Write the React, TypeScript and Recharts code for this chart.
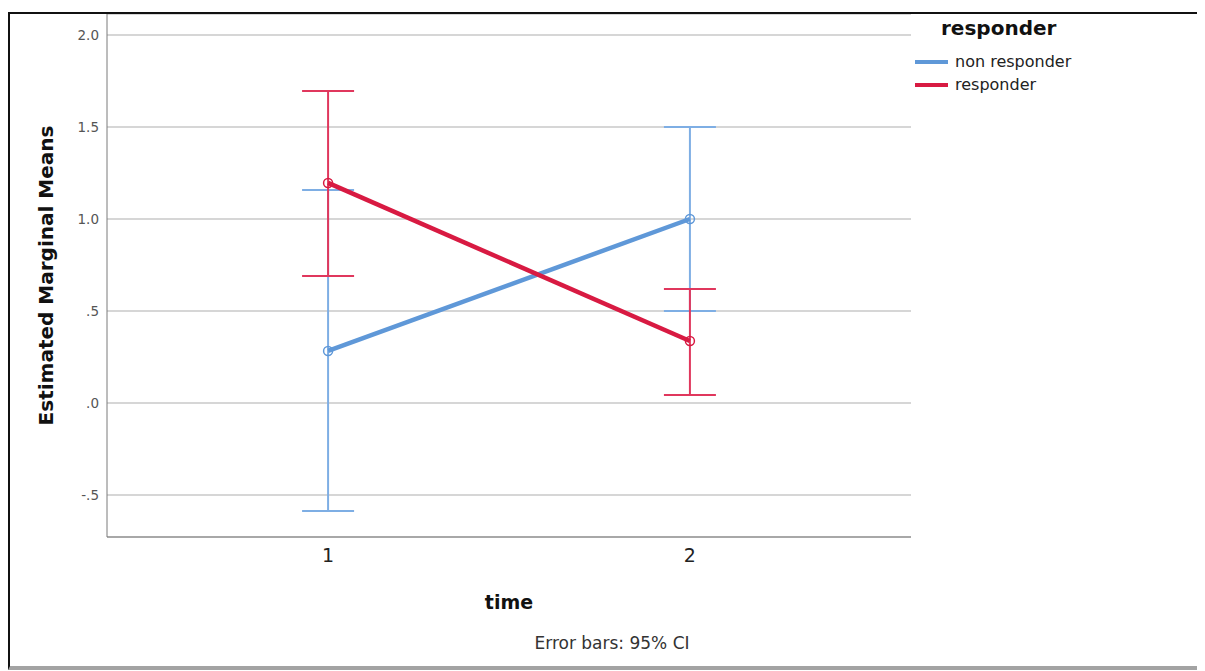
import React from "react";
import {
  LineChart,
  Line,
  XAxis,
  YAxis,
  CartesianGrid,
  ErrorBar,
  Legend,
  Label,
} from "recharts";

// estimated marginal means per time point, with 95% CI bounds
const times = [1, 2];
const nonResponderMean = [0.283, 1.0];
const nonResponderLower = [-0.587, 0.5];
const nonResponderUpper = [1.158, 1.5];
const responderMean = [1.196, 0.337];
const responderLower = [0.69, 0.043];
const responderUpper = [1.696, 0.62];
const yTicks = [-0.5, 0, 0.5, 1, 1.5, 2];

const data = times.map((t, i) => ({
  time: t,
  non: nonResponderMean[i],
  nonErr: [
    nonResponderMean[i] - nonResponderLower[i],
    nonResponderUpper[i] - nonResponderMean[i],
  ],
  resp: responderMean[i],
  respErr: [
    responderMean[i] - responderLower[i],
    responderUpper[i] - responderMean[i],
  ],
}));

const FONT = "'DejaVu Sans', Verdana, sans-serif";
const BLUE = "#5f98d8";
const BLUE_ERR = "#7eaee4";
const RED = "#d81a42";
const RED_ERR = "#e0375d";

const fmtY = (v: number) => v.toFixed(1).replace(/^(-?)0\./, "$1.");

// height 0 so the legend takes no room from the plot
function LegendBox(props: any) {
  const items = props.payload || [];
  return (
    <div style={{ position: "relative", width: 290, height: 0, fontFamily: FONT }}>
      <div
        style={{
          position: "absolute",
          left: 26,
          top: -1,
          fontSize: 20,
          fontWeight: "bold",
          color: "#111",
          whiteSpace: "nowrap",
        }}
      >
        responder
      </div>
      {items.map((it: any, i: number) => (
        <div key={i} style={{ position: "absolute", left: 0, top: 35 + i * 23, height: 20 }}>
          <div
            style={{
              position: "absolute",
              left: 0,
              top: 8,
              width: 33,
              height: 4,
              background: it.color,
            }}
          />
          <div
            style={{
              position: "absolute",
              left: 40,
              top: 0,
              fontSize: 16,
              color: "#222",
              whiteSpace: "nowrap",
              lineHeight: "20px",
            }}
          >
            {it.value}
          </div>
        </div>
      ))}
    </div>
  );
}

export default function App() {
  return (
    <div
      style={{
        position: "relative",
        marginTop: 4,
        width: 1197,
        height: 652,
        borderTop: "2px solid #111",
        borderLeft: "2px solid #111",
        borderBottom: "4px solid #a3a3a3",
        fontFamily: FONT,
      }}
    >
      <style>{"body{overflow:hidden}"}</style>
      <LineChart
        width={1197}
        height={652}
        data={data}
        margin={{ top: 0, right: 296, bottom: 49, left: 0 }}
      >
        <CartesianGrid vertical={false} stroke="#c9c9c9" strokeWidth={1.5} />
        <XAxis
          dataKey="time"
          type="number"
          domain={[0.389, 2.611]}
          ticks={times}
          allowDataOverflow
          height={80}
          tickLine={false}
          tickMargin={6}
          stroke="#7a7a7a"
          tick={{ fill: "#222", fontSize: 19, fontFamily: FONT }}
        >
          <Label
            value="time"
            position="insideBottom"
            offset={8}
            style={{ fontSize: 19, fontWeight: "bold", fill: "#111", fontFamily: FONT }}
          />
        </XAxis>
        <YAxis
          type="number"
          domain={[-0.728, 2.114]}
          ticks={yTicks}
          allowDataOverflow
          width={97}
          tickLine={false}
          tickFormatter={fmtY}
          stroke="#7a7a7a"
          tick={{ fill: "#555", fontSize: 13.5, fontFamily: FONT }}
        >
          <Label
            value="Estimated Marginal Means"
            angle={-90}
            position="center"
            dx={-13}
            style={{ fontSize: 20, fontWeight: "bold", fill: "#111", fontFamily: FONT }}
          />
        </YAxis>
        <Legend
          content={LegendBox}
          wrapperStyle={{ position: "absolute", left: 905, top: 3, width: 290, height: 0 }}
        />
        <Line
          dataKey="non"
          name="non responder"
          stroke={BLUE}
          strokeWidth={4.5}
          isAnimationActive={false}
          dot={{ r: 4.5, stroke: BLUE, strokeWidth: 1.5, fill: "none" }}
          activeDot={false}
        >
          <ErrorBar dataKey="nonErr" width={26} stroke={BLUE_ERR} strokeWidth={2} isAnimationActive={false} />
        </Line>
        <Line
          dataKey="resp"
          name="responder"
          stroke={RED}
          strokeWidth={4.5}
          isAnimationActive={false}
          dot={{ r: 4.5, stroke: RED, strokeWidth: 1.5, fill: "none" }}
          activeDot={false}
        >
          <ErrorBar dataKey="respErr" width={26} stroke={RED_ERR} strokeWidth={2} isAnimationActive={false} />
        </Line>
      </LineChart>
      <span
        style={{
          position: "absolute",
          left: 602,
          top: 619,
          transform: "translateX(-50%)",
          whiteSpace: "nowrap",
          fontSize: 17,
          color: "#333",
        }}
      >
        Error bars: 95% CI
      </span>
    </div>
  );
}
